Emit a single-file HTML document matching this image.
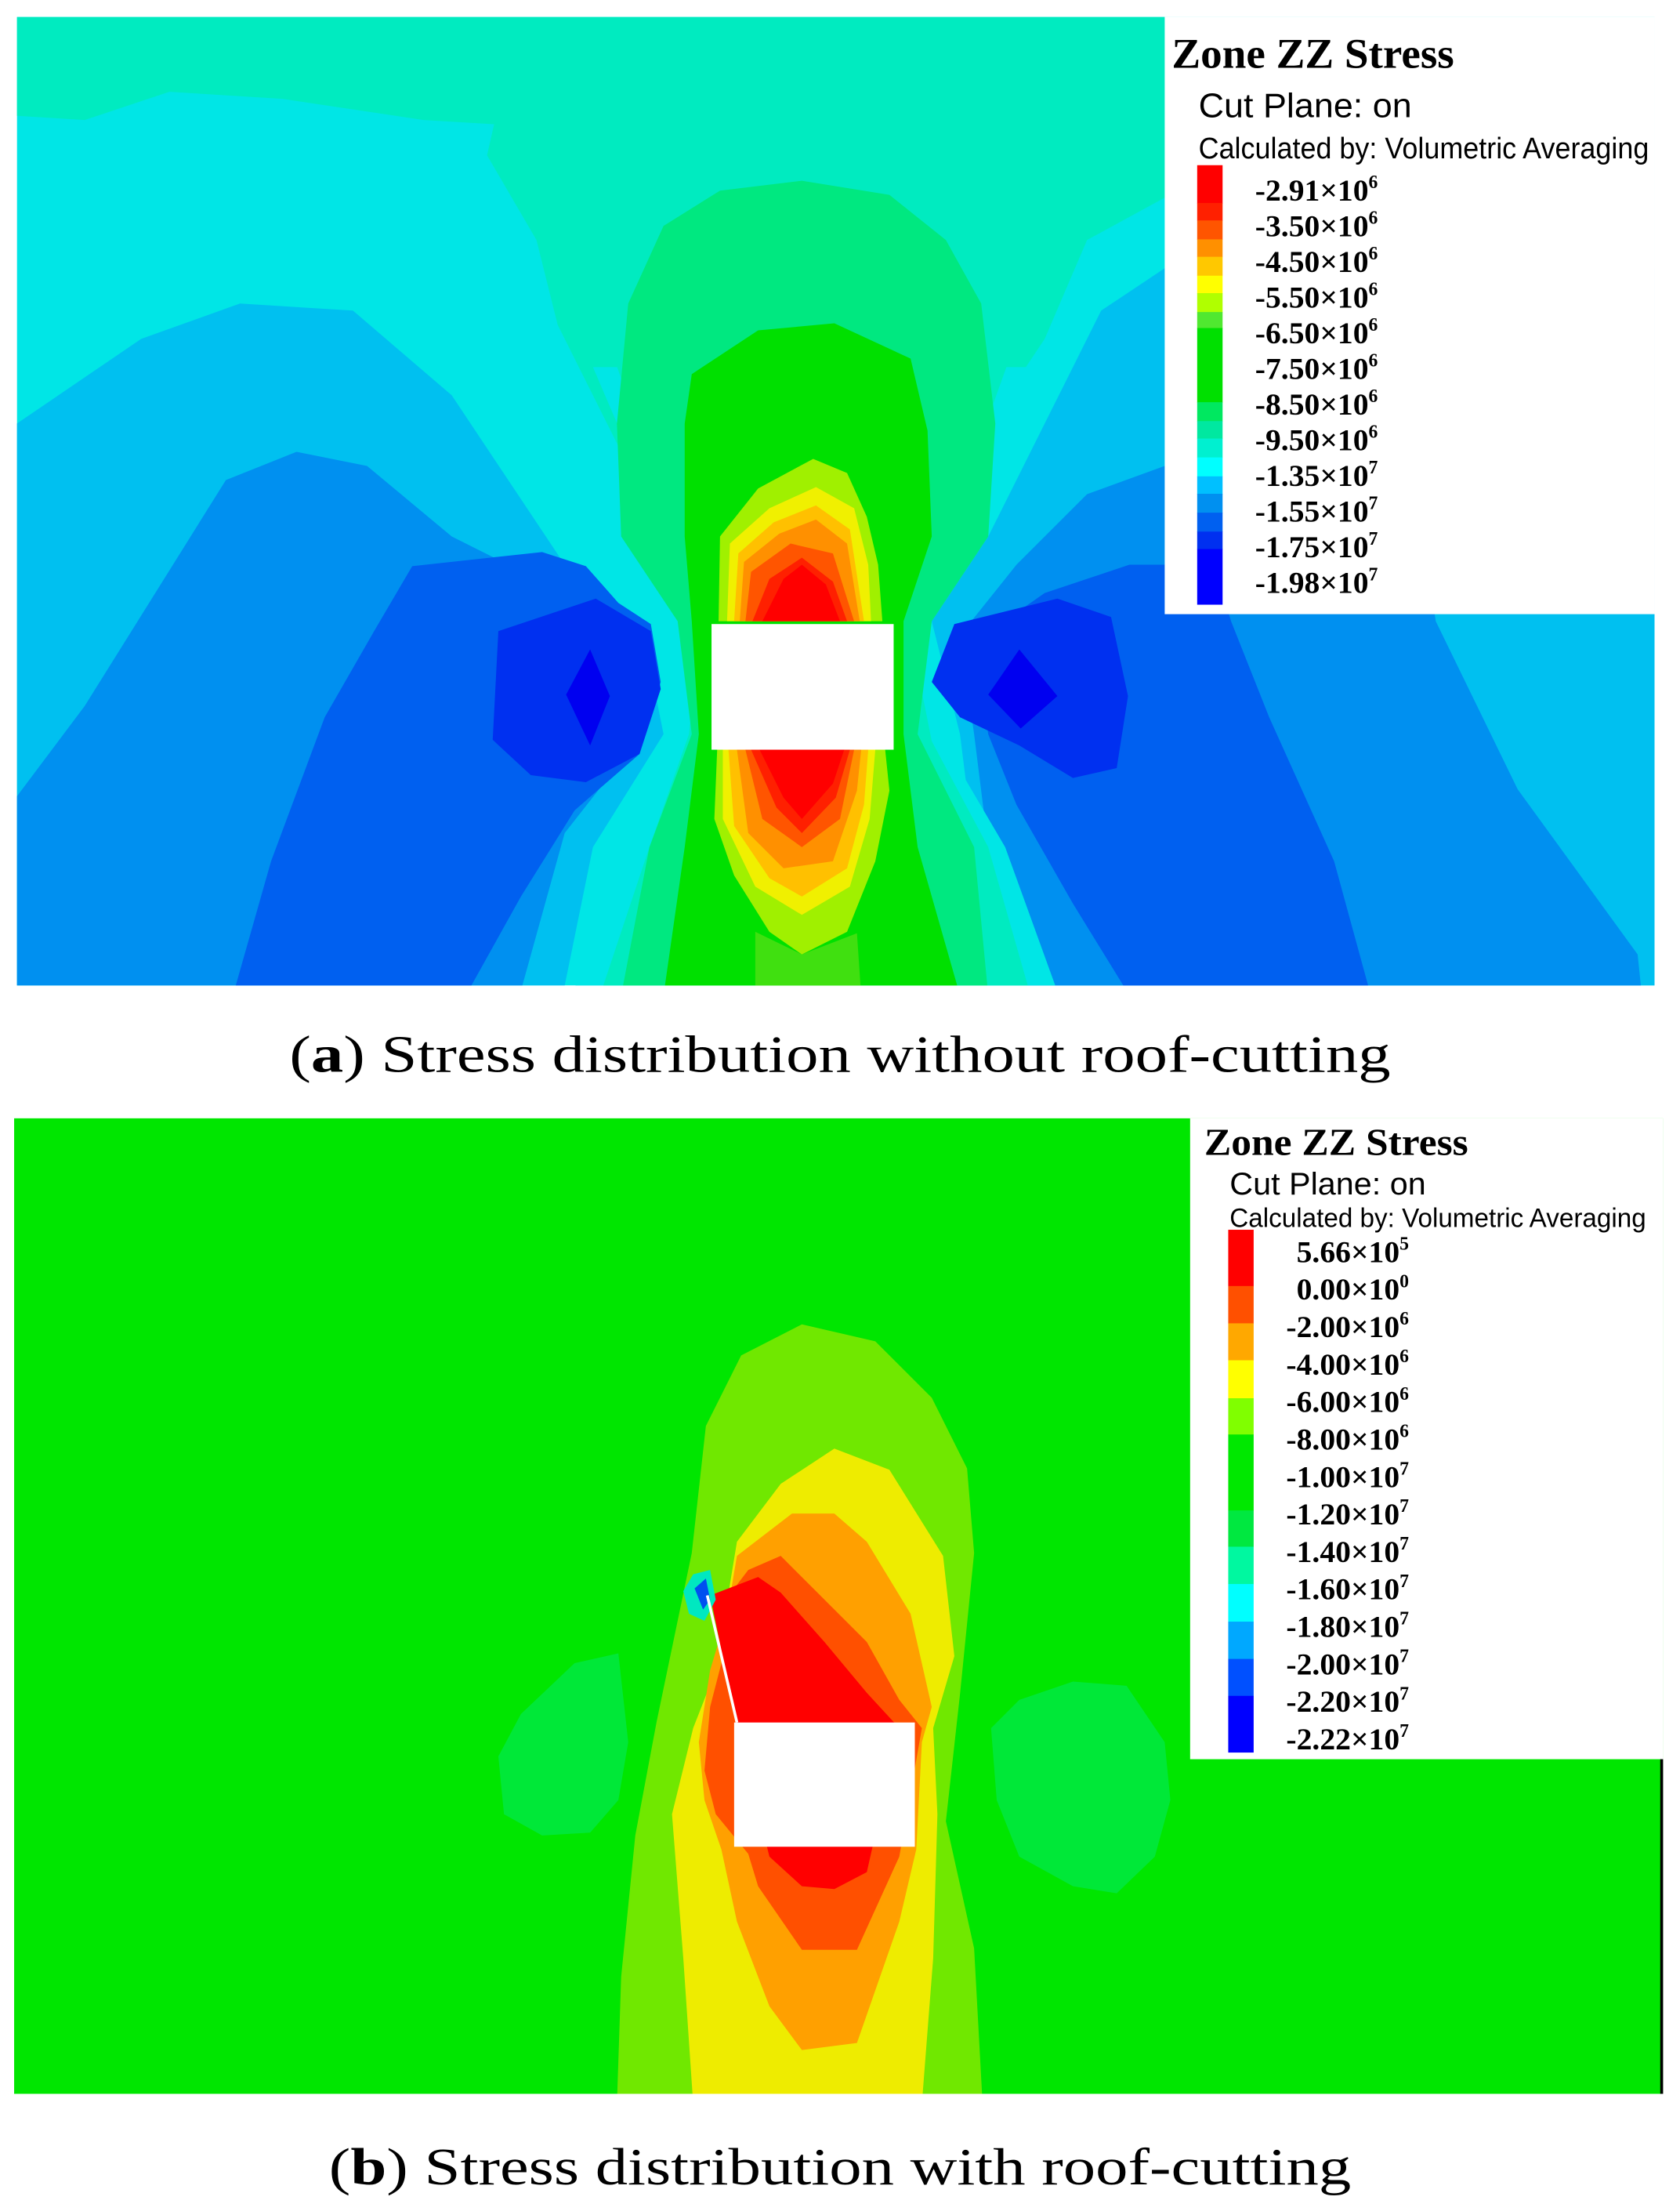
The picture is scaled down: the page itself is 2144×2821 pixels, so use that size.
<!DOCTYPE html>
<html><head><meta charset="utf-8"><style>
html,body{margin:0;padding:0;background:#fff}
svg{display:block}
.t{font-family:"Liberation Serif",serif}
.s{font-family:"Liberation Sans",sans-serif}
</style></head><body>
<svg id="fig" width="2144" height="2821" viewBox="0 0 1190 1566" preserveAspectRatio="none" xmlns="http://www.w3.org/2000/svg">
<g>
<clipPath id="ca"><rect x="12" y="12" width="1160" height="686"/></clipPath>
<g clip-path="url(#ca)">
<rect x="12" y="12" width="1160" height="686" fill="#00e6e6"/>
<polygon fill="#00ebc0" points="12,12 825,12 825,140 770,170 740,240 700,300 670,380 645,440 495,440 470,380 430,300 395,230 380,170 345,110 350,88 300,85 200,70 120,65 60,85 12,82"/>
<polygon fill="#00c0f0" points="12,300 100,240 170,215 250,220 320,280 380,370 420,430 460,470 470,520 420,600 400,698 12,698"/>
<polygon fill="#0090f0" points="12,564 60,500 110,420 160,340 210,320 260,330 320,380 380,410 420,440 450,470 455,520 400,590 370,698 12,698"/>
<polygon fill="#0060f0" points="165,705 192,610 230,508 265,447 292,401 384,391 415,401 438,427 461,442 468,483 453,534 407,574 369,635 330,705"/>
<polygon fill="#0030f0" points="353,447 422,424 461,447 468,488 453,534 415,554 376,549 349,524"/>
<polygon fill="#0000f0" points="418,460 432,493 418,528 401,492"/>
<polygon fill="#00c0f0" points="660,440 700,380 740,300 780,220 825,190 1172,190 1172,698 700,698 690,600 680,520"/>
<polygon fill="#0090f0" points="680,450 720,400 770,350 825,330 1000,330 1017,440 1075,559 1160,676 1163,705 720,705 700,600 690,520"/>
<polygon fill="#0060f0" points="690,455 740,420 800,400 860,400 872,440 899,508 945,610 971,705 800,705 760,640 720,570 700,520"/>
<polygon fill="#0030f0" points="676,442 749,424 787,437 799,493 791,544 760,551 722,528 680,508 660,483"/>
<polygon fill="#0000f0" points="722,460 749,493 723,516 700,492"/>
<polygon fill="#00e6e6" points="420,260 450,330 480,400 492,445 480,520 445,600 405,705 750,705 712,600 668,525 648,445 670,390 705,320 730,260"/>
<polygon fill="#00ebc0" points="430,240 455,310 485,390 496,445 488,520 460,600 425,705 730,705 700,600 660,525 644,445 665,380 695,310 720,240"/>
<polygon fill="#00e880" points="445,215 470,160 510,135 568,128 630,138 670,170 695,215 705,300 700,380 660,440 650,520 690,600 700,705 440,705 460,600 490,520 480,440 440,380 437,300"/>
<polygon fill="#00e000" points="485,300 490,265 537,234 591,229 645,254 657,305 660,380 640,440 640,520 650,600 680,705 470,705 485,600 495,520 490,440 485,380"/>
<polygon fill="#40e010" points="535,705 535,660 568,676 607,661 610,705"/>
<polygon fill="#a0f000" points="509,440 510,380 537,346 576,325 600,335 614,366 622,400 625,440"/>
<polygon fill="#f0f000" points="515,440 517,385 545,360 578,345 605,360 615,400 617,440"/>
<polygon fill="#ffc000" points="520,440 523,392 548,370 578,358 602,375 612,440"/>
<polygon fill="#ff9000" points="524,440 527,398 552,378 578,368 600,385 609,440"/>
<polygon fill="#ff5500" points="528,440 532,405 560,385 590,392 605,440"/>
<polygon fill="#ff2000" points="533,440 545,410 568,395 590,412 600,440"/>
<polygon fill="#ff0000" points="540,440 555,410 568,400 585,414 595,440"/>
<polygon fill="#a0f000" points="508,531 506,580 520,620 545,660 568,676 600,660 620,610 630,560 627,531"/>
<polygon fill="#f0f000" points="512,531 512,580 535,628 568,648 602,628 616,580 620,531"/>
<polygon fill="#ffc000" points="516,531 520,585 545,622 568,635 600,615 612,570 615,531"/>
<polygon fill="#ff9000" points="522,531 530,590 555,615 590,610 607,560 610,531"/>
<polygon fill="#ff5500" points="528,531 540,580 568,600 595,580 605,531"/>
<polygon fill="#ff2000" points="532,531 550,572 568,590 592,565 602,531"/>
<polygon fill="#ff0000" points="538,531 555,565 568,580 590,555 598,531"/>
</g>
<rect x="504" y="442" width="129" height="89" fill="#fff"/>
<rect x="825" y="12" width="347" height="423" fill="#fff"/>
</g>
<g>
<clipPath id="cb"><rect x="10" y="792" width="1168" height="691"/></clipPath>
<g clip-path="url(#cb)">
<rect x="10" y="792" width="1168" height="691" fill="#00e600"/>
<polygon fill="#00e838" points="353,1244 369,1214 407,1178 438,1171 445,1234 438,1275 418,1298 384,1300 357,1285"/>
<polygon fill="#00e838" points="702,1224 722,1204 760,1191 798,1194 825,1234 829,1275 818,1315 791,1341 760,1336 722,1315 706,1275"/>
<polygon fill="#70e800" points="437,1490 440,1400 450,1300 465,1220 490,1100 500,1010 525,960 568,938 620,950 660,990 685,1040 690,1100 680,1200 670,1290 690,1380 696,1490"/>
<polygon fill="#eeec00" points="491,1490 484,1387 476,1285 491,1224 507,1183 522,1092 553,1051 591,1026 630,1041 668,1102 676,1173 661,1224 664,1285 661,1387 653,1490"/>
<polygon fill="#ffa000" points="522,1102 561,1072 591,1072 614,1092 645,1143 660,1209 653,1234 649,1310 637,1361 607,1447 568,1452 545,1421 522,1361 511,1310 499,1275 495,1234 503,1183 515,1143"/>
<polygon fill="#ff5000" points="530,1112 553,1102 584,1133 614,1163 637,1204 653,1224 637,1315 607,1381 568,1381 537,1336 530,1313 507,1285 499,1254 503,1209 511,1178 514,1133"/>
<polygon fill="#ff0000" points="503,1130 537,1117 553,1128 584,1163 614,1199 637,1224 614,1326 591,1338 568,1336 545,1315 522,1222"/>
<polygon fill="#00e8c0" points="484,1127 491,1115 503,1112 507,1133 499,1148 488,1143"/>
<polygon fill="#0050f0" points="492,1125 500,1118 503,1133 498,1140"/>
<line x1="501" y1="1130" x2="522" y2="1220" stroke="#fff" stroke-width="2"/>
</g>
<rect x="520" y="1220" width="128" height="88" fill="#fff"/>
<rect x="843" y="792" width="335" height="454" fill="#fff"/>
<line x1="1177" y1="1246" x2="1177" y2="1483" stroke="#000" stroke-width="2"/>
</g>
<g id="legA">
<text class="t" x="830" y="48" font-size="30" font-weight="bold" textLength="200" lengthAdjust="spacingAndGlyphs">Zone ZZ Stress</text>
<text class="s" x="849" y="83" font-size="24" textLength="151" lengthAdjust="spacingAndGlyphs">Cut Plane: on</text>
<text class="s" x="849" y="112" font-size="21" textLength="319" lengthAdjust="spacingAndGlyphs">Calculated by: Volumetric Averaging</text>
</g>
<g id="legB">
<text class="t" x="853" y="818" font-size="27" font-weight="bold" textLength="187" lengthAdjust="spacingAndGlyphs">Zone ZZ Stress</text>
<text class="s" x="871" y="846" font-size="22" textLength="139" lengthAdjust="spacingAndGlyphs">Cut Plane: on</text>
<text class="s" x="871" y="869" font-size="19" textLength="295" lengthAdjust="spacingAndGlyphs">Calculated by: Volumetric Averaging</text>
</g>
<text class="t" x="205" y="759" font-size="37" textLength="780" lengthAdjust="spacingAndGlyphs">(<tspan font-weight="bold">a</tspan>) Stress distribution without roof-cutting</text>
<text class="t" x="233" y="1547" font-size="37" textLength="724" lengthAdjust="spacingAndGlyphs">(<tspan font-weight="bold">b</tspan>) Stress distribution with roof-cutting</text>
</svg>
<script>
const legendAColors=["#ff0000","#ff2000","#ff5500","#ff9000","#ffc800","#ffff00","#b0ff00","#50e830","#00e000","#00e860","#00e8a0","#00f0d0","#00ffff","#00c0ff","#0090f0","#0060f0","#0030f0","#0000ff"];
const legendAStops=[30,160,220,285,345,410,470,535,590,845,910,970,1035,1100,1160,1225,1290,1350,1540];
const legendAMant=["-2.91","-3.50","-4.50","-5.50","-6.50","-7.50","-8.50","-9.50","-1.35","-1.55","-1.75","-1.98"];
const legendAExp=["6","6","6","6","6","6","6","6","7","7","7","7"];
const legendBColors=["#ff0000","#ff5000","#ffa800","#ffff00","#80ff00","#00e800","#00e840","#00f8a0","#00ffff","#00a8ff","#0050ff","#0000ff"];
const legendBStops=[22,185,293,400,510,615,835,940,1048,1157,1265,1372,1535];
const legendBMant=["5.66","0.00","-2.00","-4.00","-6.00","-8.00","-1.00","-1.20","-1.40","-1.60","-1.80","-2.00","-2.20","-2.22"];
const legendBExp=["5","0","6","6","6","6","7","7","7","7","7","7","7","7"];
const NS="http://www.w3.org/2000/svg";
function drawLegend(gid,colors,stops,mant,exp,bx,bw,y0,y1,lrx,ly0,ly1,fs){
  const g=document.getElementById(gid);
  const s0=stops[0],s1=stops[stops.length-1];
  const yS=v=>y0+(v-s0)/(s1-s0)*(y1-y0);
  for(let i=0;i<colors.length;i++){
    const r=document.createElementNS(NS,'rect');
    
    
    r.setAttribute('x',bx);r.setAttribute('width',bw);
    r.setAttribute('y',yS(stops[i]));r.setAttribute('height',yS(stops[i+1])-yS(stops[i])+0.3);
    r.setAttribute('fill',colors[i]);g.appendChild(r);
  }
  const n=mant.length;
  for(let i=0;i<n;i++){
    const t=document.createElementNS(NS,'text');
    
    
    t.setAttribute('class','t');
    t.setAttribute('x',lrx);t.setAttribute('text-anchor','end');
    t.setAttribute('y',ly0+(ly1-ly0)*i/(n-1));
    t.setAttribute('font-size',fs);t.setAttribute('font-weight','bold');
    t.textContent=mant[i]+'×10';
    const sp=document.createElementNS(NS,'tspan');
    sp.setAttribute('dy',-fs*0.4);sp.setAttribute('font-size',fs*0.6);
    sp.textContent=exp[i];t.appendChild(sp);
    g.appendChild(t);
  }
}
drawLegend('legA',legendAColors,legendAStops,legendAMant,legendAExp,848,18,117,428,976,142,420,22);
drawLegend('legB',legendBColors,legendBStops,legendBMant,legendBExp,870,18,871,1241,998,894,1239,22);
</script>
</body></html>
